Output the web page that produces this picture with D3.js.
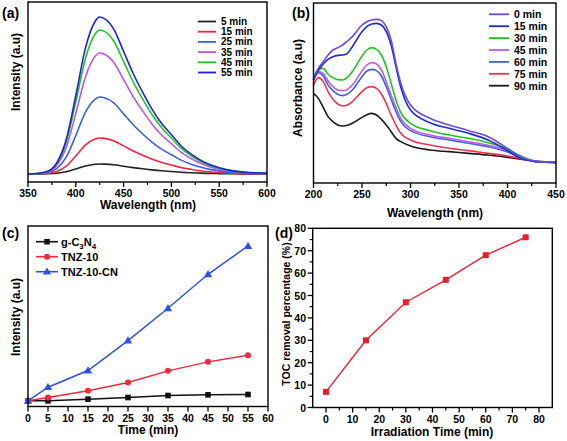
<!DOCTYPE html>
<html><head><meta charset="utf-8">
<script src="https://cdn.jsdelivr.net/npm/d3@7/dist/d3.min.js"></script>
<style>
body{margin:0;background:#fff;}
svg{font-family:"Liberation Sans",Arial,sans-serif;font-weight:bold;}
</style></head>
<body><svg id="c" width="567" height="441"></svg>
<script>
// ---------- Panel (a) data ----------
const wlA = [350,360,370,380,390,400,410,420,425,430,440,450,460,470,480,490,500,510,520,530,540,550,560,575,600];
const seriesA_names = ["5 min","15 min","25 min","35 min","45 min","55 min"];
const seriesA_colors = ["#222222","#f2283c","#3a5ee8","#c054e0","#22c422","#1a26cc"];
const a5  = [0,0,0.2,0.7,2.2,5,8,9.7,10,9.9,9.2,7.8,6.4,5.2,4.1,3.2,2.5,1.8,1.3,0.9,0.6,0.4,0.3,0.1,0.1];
const a15 = [0,0.1,0.5,2.5,7.9,18,28.8,34.9,36,35.6,33.1,28.1,23,18.7,14.8,11.5,9,6.5,4.7,3.2,2.2,1.4,0.9,0.4,0.2];
const a25 = [0,0.2,1.2,5.4,16.9,38.5,61.6,74.7,77,76.2,70.8,60.1,49.3,40,31.6,24.6,19.3,13.9,10,6.9,4.6,3.1,1.9,0.9,0.4];
const a35 = [0,0.4,1.8,8.5,26.6,60.5,96.8,117.4,121,119.8,111.3,94.4,77.4,62.9,49.6,38.7,30.3,21.8,15.7,10.9,7.3,4.8,3,1.5,0.6];
const a45 = [0,0.4,2.2,10.1,31.7,72,115.2,139.7,144,142.6,132.5,112.3,92.2,74.9,59,46.1,36,25.9,18.7,13,8.6,5.8,3.6,1.7,0.7];
const a55 = [0,0.5,2.4,11,34.5,78.5,125.6,152.3,157,155.4,144.4,122.5,100.5,81.6,64.4,50.2,39.3,28.3,20.4,14.1,9.4,6.3,3.9,1.9,0.8];
const ticksA = [350,400,450,500,550,600];

// ---------- Panel (b) data ----------
const wlB = [200,205,210,215,220,225,230,235,240,250,255,260,265,270,275,280,285,290,300,320,340,360,380,400,410,420,430,450];
const seriesB_names = ["0 min","15 min","30 min","45 min","60 min","75 min","90 min"];
const seriesB_colors = ["#6a4ae0","#1c2ed0","#22c422","#c259e6","#3e62dc","#f2304e","#1a1a1a"];
const b0  = [3.14,3.44,3.64,3.84,3.99,4.06,4.14,4.26,4.39,4.74,4.84,4.89,4.91,4.87,4.69,4.29,3.59,2.99,2.34,1.94,1.74,1.57,1.39,1.04,0.84,0.71,0.65,0.62];
const b15 = [3.09,3.37,3.57,3.71,3.79,3.83,3.84,3.89,4.09,4.54,4.69,4.77,4.79,4.74,4.54,4.14,3.49,2.87,2.19,1.81,1.64,1.49,1.29,0.97,0.79,0.69,0.64,0.62];
const b30 = [3.14,3.41,3.44,3.27,3.16,3.10,3.09,3.17,3.34,3.81,3.99,4.06,4.01,3.84,3.49,2.99,2.49,2.11,1.79,1.57,1.44,1.34,1.21,1.02,0.86,0.73,0.65,0.62];
const b45 = [3.09,3.34,3.29,3.06,2.89,2.79,2.77,2.81,2.94,3.36,3.54,3.61,3.57,3.39,3.04,2.64,2.27,1.94,1.64,1.44,1.34,1.24,1.13,0.97,0.83,0.72,0.65,0.62];
const b60 = [3.09,3.31,3.21,2.94,2.77,2.66,2.62,2.67,2.79,3.19,3.36,3.41,3.37,3.21,2.89,2.51,2.14,1.84,1.57,1.39,1.29,1.19,1.09,0.93,0.81,0.71,0.64,0.62];
const b75 = [2.94,3.16,3.04,2.74,2.51,2.37,2.31,2.34,2.44,2.74,2.86,2.89,2.84,2.67,2.39,2.04,1.74,1.49,1.29,1.14,1.04,0.97,0.89,0.81,0.75,0.69,0.64,0.62];
const b90 = [2.69,2.54,2.27,1.99,1.84,1.74,1.71,1.73,1.79,1.97,2.05,2.09,2.04,1.91,1.74,1.54,1.34,1.24,1.11,0.99,0.94,0.89,0.84,0.77,0.73,0.69,0.64,0.62];
const ticksB = [200,250,300,350,400,450];

// ---------- Panel (c) data ----------
const timeC = [0,5,15,25,35,45,55];
const seriesC_names = ["g-C3N4","TNZ-10","TNZ-10-CN"];
const seriesC_colors = ["#111111","#f2283c","#2f4fe8"];
const cG   = [1.7,1.7,2.2,2.7,3.3,3.5,3.6];
const cTNZ = [1.7,2.7,4.7,7.2,10.7,13.4,15.4];
const cCN  = [1.7,5.8,10.8,19.8,29.5,39.7,48.2];
const ticksC = [0,5,10,15,20,25,30,35,40,45,50,55,60];

// ---------- Panel (d) data ----------
const timeD = [0,15,30,45,60,75];
const tocD = [7,30,47,57,68,76];
const ticksDx = [0,10,20,30,40,50,60,70,80];
const ticksDy = [0,10,20,30,40,50,60,70,80];

const svg = d3.select("#c");
const TICKF = 10.5, TITLEF = 12, PANF = 14;

function frame(g, x0, x1, y0, y1){
  g.append("rect").attr("x",x0).attr("y",y0).attr("width",x1-x0).attr("height",y1-y0)
   .attr("fill","none").attr("stroke","#000").attr("stroke-width",1.4);
}
function xTicks(g, x, y1, major, minor, labels){
  minor.forEach(v=>g.append("line").attr("x1",x(v)).attr("x2",x(v)).attr("y1",y1).attr("y2",y1+3).attr("stroke","#000").attr("stroke-width",1.2));
  major.forEach(v=>g.append("line").attr("x1",x(v)).attr("x2",x(v)).attr("y1",y1).attr("y2",y1+5).attr("stroke","#000").attr("stroke-width",1.3));
  if(labels) major.forEach(v=>g.append("text").attr("x",x(v)).attr("y",y1+15).attr("text-anchor","middle").attr("font-size",TICKF).text(v));
}
function textRot(g, x, y, t, size){
  g.append("text").attr("transform",`translate(${x},${y}) rotate(-90)`).attr("text-anchor","middle").attr("font-size",size).text(t);
}

// ===== Panel A =====
{
  const g = svg.append("g");
  const x = d3.scaleLinear().domain([350,600]).range([28,267]);
  const y = d3.scaleLinear().domain([-8,172]).range([182,2]);
  const all = [a5,a15,a25,a35,a45,a55];
  const line = d3.line().x((d,i)=>x(wlA[i])).y(d=>y(d)).curve(d3.curveMonotoneX);
  all.forEach((s,k)=>g.append("path").attr("d",line(s)).attr("fill","none").attr("stroke",seriesA_colors[k]).attr("stroke-width",1.6));
  frame(g,28,267,2,182);
  xTicks(g,x,182,ticksA,d3.range(375,600,50),true);
  g.append("text").attr("x",148).attr("y",209).attr("text-anchor","middle").attr("font-size",TITLEF).text("Wavelength (nm)");
  textRot(g,20,72,"Intensity (a.u)",TITLEF);
  g.append("text").attr("x",2).attr("y",18).attr("font-size",PANF).text("(a)");
  seriesA_names.forEach((n,k)=>{
    const yy = 21.5 + k*10.2;
    g.append("line").attr("x1",198).attr("x2",216).attr("y1",yy).attr("y2",yy).attr("stroke",seriesA_colors[k]).attr("stroke-width",1.8);
    g.append("text").attr("x",221).attr("y",yy+3.5).attr("font-size",10).text(n);
  });
}

// ===== Panel B =====
{
  const g = svg.append("g");
  const x = d3.scaleLinear().domain([200,450]).range([313.5,556]);
  const y = d3.scaleLinear().domain([0,5.4]).range([183,3]);
  const all = [b0,b15,b30,b45,b60,b75,b90];
  const line = d3.line().x((d,i)=>x(wlB[i])).y(d=>y(d)).curve(d3.curveMonotoneX);
  all.slice().reverse().forEach((s,kk)=>{const k=all.length-1-kk;
    g.append("path").attr("d",line(s)).attr("fill","none").attr("stroke",seriesB_colors[k]).attr("stroke-width",1.6);});
  frame(g,313.5,556,3,183);
  xTicks(g,x,183,ticksB,d3.range(225,450,50),true);
  g.append("text").attr("x",435).attr("y",217).attr("text-anchor","middle").attr("font-size",TITLEF).text("Wavelength (nm)");
  textRot(g,302,88,"Absorbance (a.u)",TITLEF);
  g.append("text").attr("x",292).attr("y",18).attr("font-size",PANF).text("(b)");
  seriesB_names.forEach((n,k)=>{
    const yy = 14.3 + k*11.9;
    g.append("line").attr("x1",489).attr("x2",509).attr("y1",yy).attr("y2",yy).attr("stroke",seriesB_colors[k]).attr("stroke-width",1.8);
    g.append("text").attr("x",514).attr("y",yy+4).attr("font-size",10.5).text(n);
  });
}

// ===== Panel C =====
{
  const g = svg.append("g");
  const x = d3.scaleLinear().domain([0,60]).range([28,268]);
  const y = d3.scaleLinear().domain([0,54.2]).range([406.5,226]);
  const all = [cG,cTNZ,cCN];
  const line = d3.line().x((d,i)=>x(timeC[i])).y(d=>y(d));
  const marker = (sel,k,cx,cy)=>{
    if(k===0) sel.append("rect").attr("x",cx-2.8).attr("y",cy-2.8).attr("width",5.6).attr("height",5.6).attr("fill",seriesC_colors[k]);
    else if(k===1) sel.append("circle").attr("cx",cx).attr("cy",cy).attr("r",3).attr("fill",seriesC_colors[k]);
    else sel.append("path").attr("d",d3.symbol(d3.symbolTriangle,30)()).attr("transform",`translate(${cx},${cy+0.5})`).attr("fill",seriesC_colors[k]);
  };
  all.forEach((s,k)=>{
    g.append("path").attr("d",line(s)).attr("fill","none").attr("stroke",seriesC_colors[k]).attr("stroke-width",1.5);
    s.forEach((d,i)=>marker(g,k,x(timeC[i]),y(d)));
  });
  frame(g,28,268,226,406.5);
  xTicks(g,x,406.5,ticksC,[],true);
  g.append("text").attr("x",148).attr("y",434).attr("text-anchor","middle").attr("font-size",TITLEF).text("Time (min)");
  textRot(g,20,317,"Intensity (a.u)",TITLEF);
  g.append("text").attr("x",2).attr("y",238).attr("font-size",PANF).text("(c)");
  seriesC_names.forEach((n,k)=>{
    const yy = 241.7 + k*15;
    g.append("line").attr("x1",36).attr("x2",58).attr("y1",yy).attr("y2",yy).attr("stroke",seriesC_colors[k]).attr("stroke-width",1.6);
    marker(g,k,47,yy);
    const t = g.append("text").attr("x",61).attr("y",yy+4).attr("font-size",11);
    if(k===0){
      t.append("tspan").text("g-C");
      t.append("tspan").attr("font-size",8).attr("dy",3).text("3");
      t.append("tspan").attr("dy",-3).text("N");
      t.append("tspan").attr("font-size",8).attr("dy",3).text("4");
    } else t.text(n);
  });
}

// ===== Panel D =====
{
  const g = svg.append("g");
  const x = d3.scaleLinear().domain([-5,85]).range([312.7,552.3]);
  const y = d3.scaleLinear().domain([0,80]).range([407.5,228.3]);
  const line = d3.line().x((d,i)=>x(timeD[i])).y(d=>y(d));
  g.append("path").attr("d",line(tocD)).attr("fill","none").attr("stroke","#f0202c").attr("stroke-width",1.4);
  tocD.forEach((d,i)=>g.append("rect").attr("x",x(timeD[i])-3).attr("y",y(d)-3).attr("width",6).attr("height",6).attr("fill","#ec1c2a"));
  frame(g,312.7,552.3,228.3,407.5);
  xTicks(g,x,407.5,ticksDx,d3.range(5,85,10),true);
  d3.range(5,80,10).forEach(v=>g.append("line").attr("x1",312.7).attr("x2",309.7).attr("y1",y(v)).attr("y2",y(v)).attr("stroke","#000").attr("stroke-width",1.2));
  ticksDy.forEach(v=>{
    g.append("line").attr("x1",312.7).attr("x2",307.7).attr("y1",y(v)).attr("y2",y(v)).attr("stroke","#000").attr("stroke-width",1.3);
    g.append("text").attr("x",306).attr("y",y(v)+4).attr("text-anchor","end").attr("font-size",TICKF).text(v);
  });
  g.append("text").attr("x",432).attr("y",436).attr("text-anchor","middle").attr("font-size",TITLEF).text("Irradiation Time (min)");
  textRot(g,290,314,"TOC removal percentage (%)",10.5);
  g.append("text").attr("x",275).attr("y",238).attr("font-size",PANF).text("(d)");
}
</script></body></html>
